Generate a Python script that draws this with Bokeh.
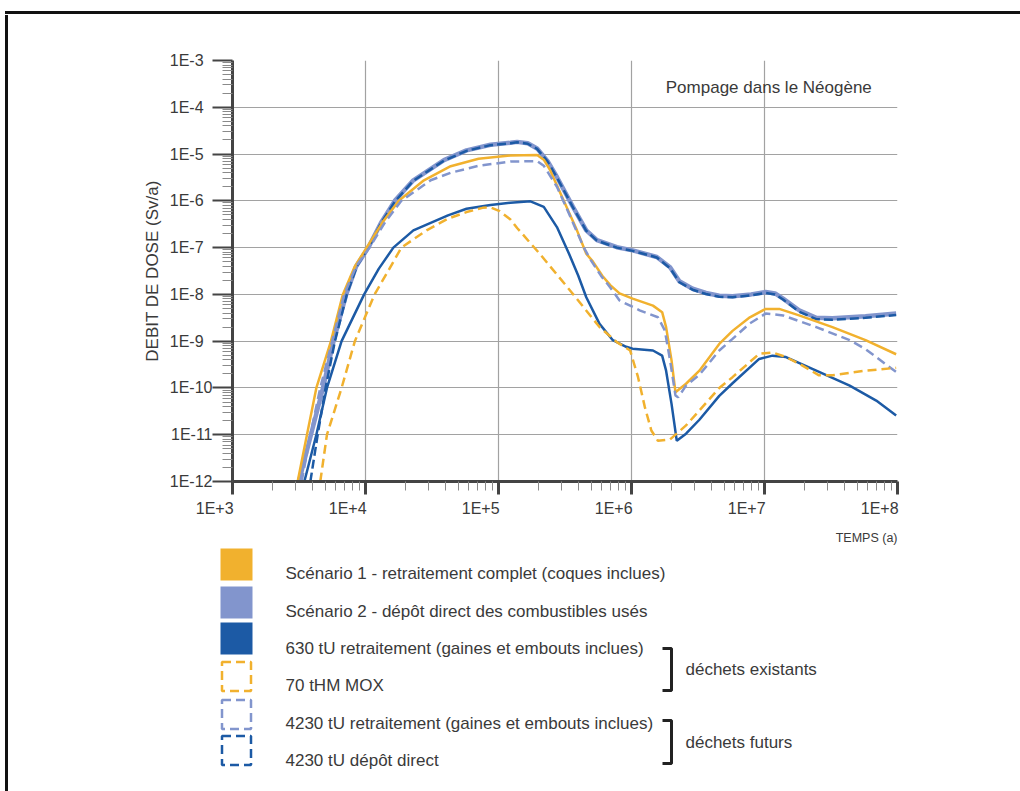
from bokeh.plotting import figure
from bokeh.layouts import column, row
from bokeh.models import FixedTicker, Range1d, Label, Div
from bokeh.embed import file_html
from bokeh.resources import INLINE
from bokeh.core.properties import value

# ---------------- data (years, Sv/a) ----------------
# Scénario 1 - retraitement complet (orange, solid)
s1_t = [3.09e3, 3.63e3, 4.27e3, 5.50e3, 6.76e3, 8.32e3, 1.02e4, 1.35e4, 1.78e4, 2.75e4,
        4.37e4, 7.08e4, 1.23e5, 1.95e5, 2.19e5, 2.45e5, 3.09e5, 3.89e5, 4.57e5, 5.13e5,
        6.03e5, 6.92e5, 8.13e5, 1.02e6, 1.45e6, 1.70e6, 1.82e6, 2.00e6, 2.14e6, 2.57e6,
        3.24e6, 4.57e6, 5.75e6, 7.76e6, 1.02e7, 1.29e7, 1.82e7, 3.24e7, 5.75e7, 9.77e7]
s1_d = [1.0e-12, 1.0e-11, 1.0e-10, 1.0e-9, 1.0e-8, 3.98e-8, 1.0e-7, 3.55e-7, 1.0e-6, 2.75e-6,
        5.50e-6, 7.94e-6, 9.33e-6, 9.55e-6, 7.59e-6, 4.47e-6, 1.02e-6, 2.34e-7, 7.41e-8, 5.01e-8,
        2.51e-8, 1.58e-8, 1.05e-8, 8.13e-9, 5.75e-9, 4.17e-9, 2.00e-9, 3.89e-10, 8.13e-11, 1.23e-10,
        2.34e-10, 8.71e-10, 1.66e-9, 3.24e-9, 4.90e-9, 4.90e-9, 3.55e-9, 2.00e-9, 1.05e-9, 5.25e-10]

# Scénario 2 - dépôt direct (light blue, solid)
s2_t = [3.16e3, 3.89e3, 4.79e3, 5.75e3, 7.16e3, 8.51e3, 1.05e4, 1.32e4, 1.66e4, 2.29e4,
        3.89e4, 5.75e4, 8.71e4, 1.23e5, 1.38e5, 1.66e5, 1.95e5, 2.34e5, 2.75e5, 3.63e5,
        4.57e5, 5.50e5, 7.76e5, 1.02e6, 1.55e6, 1.95e6, 2.29e6, 2.88e6, 3.63e6, 4.57e6,
        5.75e6, 7.94e6, 1.02e7, 1.20e7, 1.38e7, 1.82e7, 2.45e7, 3.24e7, 5.75e7, 9.77e7]
s2_d = [1.0e-12, 1.0e-11, 1.0e-10, 1.0e-9, 1.0e-8, 3.98e-8, 1.0e-7, 3.55e-7, 1.0e-6, 2.75e-6,
        7.41e-6, 1.20e-5, 1.58e-5, 1.74e-5, 1.82e-5, 1.70e-5, 1.32e-5, 7.08e-6, 3.24e-6, 7.41e-7,
        2.34e-7, 1.45e-7, 1.02e-7, 8.71e-8, 6.31e-8, 3.80e-8, 1.91e-8, 1.32e-8, 1.07e-8, 9.33e-9,
        9.12e-9, 1.0e-8, 1.12e-8, 1.05e-8, 8.13e-9, 4.57e-9, 3.16e-9, 3.09e-9, 3.39e-9, 3.89e-9]

# 630 tU retraitement (dark blue, solid)
u630_t = [3.47e3, 4.27e3, 5.13e3, 6.61e3, 9.77e3, 1.26e4, 1.62e4, 2.29e4, 4.17e4, 5.75e4,
          8.71e4, 1.23e5, 1.74e5, 2.19e5, 2.75e5, 3.39e5, 3.98e5, 4.57e5, 5.75e5, 7.24e5,
          9.12e5, 1.02e6, 1.45e6, 1.70e6, 1.82e6, 2.00e6, 2.19e6, 2.57e6, 3.24e6, 4.57e6,
          5.75e6, 9.12e6, 1.15e7, 1.45e7, 2.45e7, 4.37e7, 6.92e7, 9.77e7]
u630_d = [1e-12, 1e-11, 1e-10, 1e-9, 1e-8, 3.55e-8, 1e-7, 2.34e-7, 4.90e-7, 6.76e-7,
          8.13e-7, 9.12e-7, 9.77e-7, 7.41e-7, 2.75e-7, 7.41e-8, 2.51e-8, 8.71e-9, 2.34e-9, 1.05e-9,
          7.59e-10, 6.92e-10, 6.31e-10, 4.90e-10, 2.34e-10, 4.57e-11, 7.41e-12, 1.05e-11, 2.09e-11, 6.76e-11,
          1.26e-10, 4.17e-10, 4.90e-10, 4.57e-10, 2.34e-10, 1.12e-10, 5.37e-11, 2.57e-11]

# 70 tHM MOX (orange, dashed)
mox_t = [4.57e3, 5.13e3, 6.61e3, 8.32e3, 1.17e4, 1.48e4, 1.86e4, 2.88e4, 4.17e4, 5.75e4,
         7.59e4, 8.71e4, 1.02e5, 1.23e5, 1.38e5, 2.04e5, 3.63e5, 5.75e5, 7.76e5, 9.77e5,
         1.12e6, 1.26e6, 1.41e6, 1.58e6, 1.95e6, 2.57e6, 3.24e6, 4.57e6, 5.75e6, 9.12e6,
         1.15e7, 1.45e7, 1.82e7, 2.57e7, 3.24e7, 5.75e7, 9.77e7]
mox_d = [1e-12, 1e-11, 1e-10, 1e-9, 1e-8, 3.16e-8, 1e-7, 2.34e-7, 4.17e-7, 5.75e-7,
         7.08e-7, 7.24e-7, 6.03e-7, 3.98e-7, 2.63e-7, 7.41e-8, 1.02e-8, 2.0e-9, 9.55e-10, 6.31e-10,
         1.70e-10, 3.89e-11, 1.23e-11, 7.41e-12, 7.94e-12, 1.58e-11, 3.31e-11, 1e-10, 1.70e-10, 5.37e-10,
         5.75e-10, 4.57e-10, 3.31e-10, 1.86e-10, 1.86e-10, 2.34e-10, 2.69e-10]

# 4230 tU retraitement (light blue, dashed)
r4230_t = [3.31e3, 3.85e3, 4.57e3, 5.62e3, 6.92e3, 8.51e3, 1.07e4, 1.41e4, 1.86e4, 3.09e4,
           4.37e4, 7.08e4, 1.23e5, 1.95e5, 2.19e5, 2.75e5, 3.47e5, 4.37e5, 4.90e5, 5.89e5,
           6.92e5, 8.13e5, 1.15e6, 1.58e6, 1.78e6, 1.95e6, 2.14e6, 2.24e6, 2.57e6, 3.24e6,
           4.57e6, 5.75e6, 7.76e6, 1.02e7, 1.38e7, 2.45e7, 4.37e7, 5.75e7, 9.77e7]
r4230_d = [1e-12, 1e-11, 1e-10, 1e-9, 1e-8, 3.98e-8, 1e-7, 3.55e-7, 1e-6, 2.75e-6,
           3.98e-6, 5.62e-6, 6.92e-6, 7.08e-6, 5.62e-6, 2.0e-6, 4.57e-7, 1.02e-7, 5.62e-8, 2.51e-8,
           1.41e-8, 7.41e-9, 4.57e-9, 3.24e-9, 1.70e-9, 3.89e-10, 6.92e-11, 6.31e-11, 1.12e-10, 1.91e-10,
           6.31e-10, 1.12e-9, 2.40e-9, 3.89e-9, 3.55e-9, 2.0e-9, 1.05e-9, 6.76e-10, 2.19e-10]

# 4230 tU dépôt direct (dark blue, dashed)
d4230_t = [3.85e3, 4.37e3, 5.01e3, 5.89e3, 7.24e3, 8.61e3, 1.05e4, 1.32e4, 1.66e4, 2.29e4,
           3.89e4, 5.75e4, 8.71e4, 1.23e5, 1.38e5, 1.66e5, 1.95e5, 2.34e5, 2.75e5, 3.63e5,
           4.57e5, 5.50e5, 7.76e5, 1.02e6, 1.55e6, 1.95e6, 2.29e6, 2.88e6, 3.63e6, 4.57e6,
           5.75e6, 7.94e6, 1.02e7, 1.20e7, 1.38e7, 1.82e7, 2.45e7, 3.24e7, 5.75e7, 9.77e7]
d4230_d = [1e-12, 1e-11, 1e-10, 1e-9, 1e-8, 3.98e-8, 1e-7, 3.47e-7, 9.55e-7, 2.69e-6,
           7.24e-6, 1.17e-5, 1.55e-5, 1.70e-5, 1.78e-5, 1.66e-5, 1.29e-5, 6.92e-6, 3.16e-6, 7.24e-7,
           2.29e-7, 1.41e-7, 1.0e-7, 8.51e-8, 6.17e-8, 3.63e-8, 1.82e-8, 1.26e-8, 1.02e-8, 8.91e-9,
           8.71e-9, 9.55e-9, 1.07e-8, 1.0e-8, 7.76e-9, 4.27e-9, 2.95e-9, 2.88e-9, 3.16e-9, 3.63e-9]

x_ticks = [1e3, 1e4, 1e5, 1e6, 1e7, 1e8]
x_tick_labels = ["1E+3", "1E+4", "1E+5", "1E+6", "1E+7", "1E+8"]
y_ticks = [1e-12, 1e-11, 1e-10, 1e-9, 1e-8, 1e-7, 1e-6, 1e-5, 1e-4, 1e-3]
y_tick_labels = ["1E-12", "1E-11", "1E-10", "1E-9", "1E-8", "1E-7", "1E-6", "1E-5", "1E-4", "1E-3"]

legend_labels = ["Scénario 1 - retraitement complet (coques inclues)",
                 "Scénario 2 - dépôt direct des combustibles usés",
                 "630 tU retraitement (gaines et embouts  inclues)",
                 "70 tHM MOX",
                 "4230 tU retraitement (gaines et embouts inclues)",
                 "4230 tU dépôt direct"]
group_labels = ["déchets existants", "déchets futurs"]
annotation = "Pompage dans le Néogène"
x_title = "TEMPS (a)"
y_title = "DEBIT DE DOSE (Sv/a)"

ORANGE = "#F1B12E"
LBLUE = "#8295CD"
DBLUE = "#1C5AA5"
FONT = "Liberation Sans"
TXT = "#3a3a3a"
FSP = "\u2007"  # figure space, used only to shift label alignment

# ---------------- page frame (top & left black border) ----------------
T = Div(text='<div style="padding:11px 0 0 5px;"><div style="width:1015px;height:3px;'
             'background:#111;"></div></div>', width=1020, height=15, margin=(0, 0, 0, 0))
L = Div(text='<div style="padding:0 0 0 5px;"><div style="width:3px;height:776px;'
             'background:#111;"></div></div>', width=9, height=776, margin=(0, 0, 0, 0))

# ---------------- main plot ----------------
M = figure(width=1011, height=515, x_axis_type="log", y_axis_type="log",
           x_range=Range1d(1e3, 1e8), y_range=Range1d(1e-12, 1e-3),
           output_backend="svg", toolbar_location=None,
           min_border_left=223, min_border_right=123, min_border_top=45, min_border_bottom=49)
M.outline_line_color = None
M.background_fill_color = "white"

x_minor = [m * 10 ** k for k in range(3, 8) for m in range(2, 10)]
y_minor = [m * 10.0 ** k for k in range(-12, -3) for m in range(2, 10)]
M.xaxis.ticker = FixedTicker(ticks=x_ticks, minor_ticks=x_minor)
M.yaxis.ticker = FixedTicker(ticks=y_ticks, minor_ticks=y_minor)
# labels sit to the left of their tick (x) and start at a common left edge (y)
M.xaxis.major_label_overrides = {t: lab + FSP * 4 for t, lab in zip(x_ticks, x_tick_labels)}
M.yaxis.major_label_overrides = {t: lab + FSP * (5 - len(lab)) for t, lab in zip(y_ticks, y_tick_labels)}

for ax in (M.xaxis[0], M.yaxis[0]):
    ax.axis_line_width = 3
    ax.axis_line_color = "#444444"
    ax.major_tick_line_color = "#444444"
    ax.major_tick_in = 0
    ax.minor_tick_in = 0
    ax.minor_tick_line_color = "#8a8a8a"
    ax.minor_tick_line_width = 1
    ax.major_label_text_font = FONT
    ax.major_label_text_font_size = "16px"
    ax.major_label_text_color = TXT

M.xaxis.major_tick_line_width = 3
M.xaxis.major_tick_out = 13
M.xaxis.minor_tick_out = 9
M.xaxis.major_label_standoff = 5

M.yaxis.major_tick_line_width = 2
M.yaxis.major_tick_out = 20
M.yaxis.minor_tick_out = 10
M.yaxis.major_label_standoff = 0
M.yaxis.axis_label = y_title
M.yaxis.axis_label_text_font = FONT
M.yaxis.axis_label_text_font_size = "17px"
M.yaxis.axis_label_text_font_style = "normal"
M.yaxis.axis_label_text_color = TXT
M.yaxis.axis_label_standoff = 5

M.grid.grid_line_color = "#a2a2a2"
M.grid.grid_line_width = 1.2

M.line(s2_t, s2_d, color=LBLUE, line_width=4.5)
M.line(d4230_t, d4230_d, color=DBLUE, line_width=2.5, line_dash="9 4")
M.line(s1_t, s1_d, color=ORANGE, line_width=2.5)
M.line(r4230_t, r4230_d, color=LBLUE, line_width=2.5, line_dash="9 5")
M.line(u630_t, u630_d, color=DBLUE, line_width=2.5)
M.line(mox_t, mox_d, color=ORANGE, line_width=2.5, line_dash="9 5")

M.add_layout(Label(x=1.81e6, y=2.7e-4, text=annotation, text_font=FONT, text_font_size="17px",
                   text_color=TXT, text_baseline="middle", text_align="left"))

# ---------------- legend area ----------------
B = figure(width=1011, height=261, x_range=Range1d(9, 1020), y_range=Range1d(791, 530),
           output_backend="svg", toolbar_location=None, min_border=0)
B.axis.visible = False
B.grid.visible = False
B.outline_line_color = None

sw_left, sw_size = 220, 32
sw_tops = [548, 586, 622, 660, 698, 734]
sw_colors = [ORANGE, LBLUE, DBLUE, ORANGE, LBLUE, DBLUE]
sw_dashed = [False, False, False, True, True, True]
for top, c, dsh in zip(sw_tops, sw_colors, sw_dashed):
    if dsh:
        B.quad(left=[sw_left + 1.5], right=[sw_left + sw_size - 1.5], top=[top + 1.5],
               bottom=[top + sw_size - 1.5], fill_color=None, line_color=c, line_width=2.5,
               line_dash="9 5")
    else:
        B.quad(left=[sw_left], right=[sw_left + sw_size], top=[top], bottom=[top + sw_size],
               fill_color=c, line_color=None)

text_y = [573, 611, 648, 685, 723, 760]
B.text(x=[285] * len(legend_labels), y=text_y, text=legend_labels, text_font=value(FONT),
       text_font_size="17px", text_color=TXT, text_baseline="middle", text_align="left")

br_tops = [648, 720]
br_bots = [690, 763]
B.multi_line(xs=[[662, 671, 671, 662] for _ in br_tops],
             ys=[[t, t, b, b] for t, b in zip(br_tops, br_bots)],
             line_color="#222222", line_width=3)
B.text(x=[685, 685], y=[669, 742], text=group_labels, text_font=value(FONT),
       text_font_size="17px", text_color=TXT, text_baseline="middle", text_align="left")

B.text(x=[897], y=[537], text=[x_title], text_font=value(FONT), text_font_size="12.5px",
       text_color=TXT, text_baseline="middle", text_align="right")

layout = column(T, row(L, column(row(M), row(B))))
open("out.html", "w").write(file_html(layout, INLINE))
